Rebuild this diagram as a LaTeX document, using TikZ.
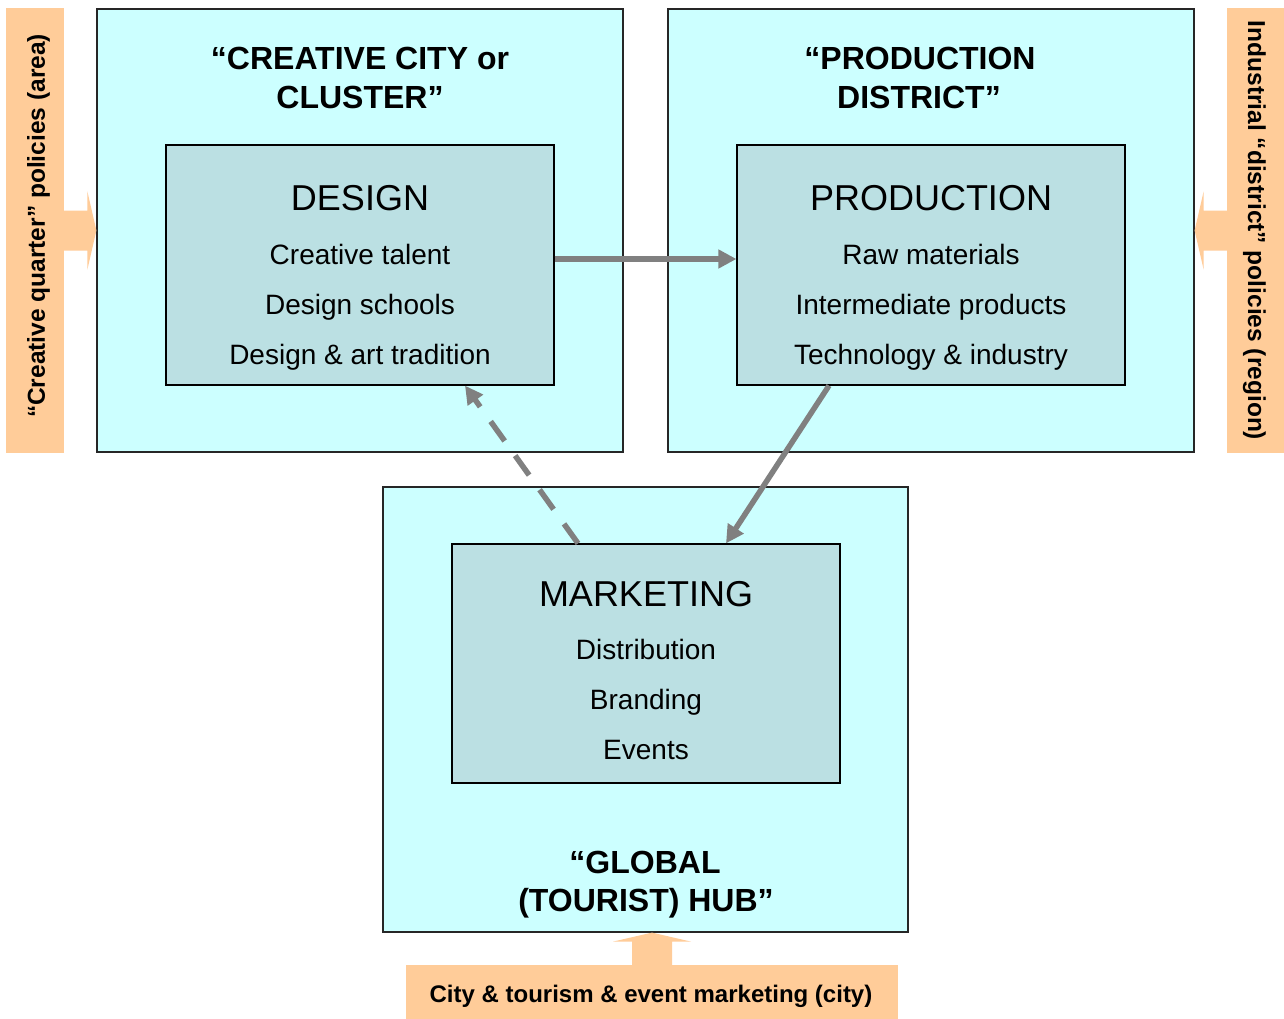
\documentclass[tikz,border=0pt]{standalone}
\usepackage{fontspec}
\setmainfont{Liberation Sans}
\usetikzlibrary{arrows.meta}
\definecolor{zonefill}{HTML}{CCFFFF}
\definecolor{corefill}{HTML}{BBE0E3}
\definecolor{policyfill}{HTML}{FFCC99}
\definecolor{flowgray}{HTML}{808080}

\begin{document}
\begin{tikzpicture}[x=1pt,y=-1pt,
  zone/.style={draw=black!85,line width=1.2pt,fill=zonefill,minimum width=526pt,minimum height=443pt,inner sep=0pt},
  core/.style={draw=black,line width=1.2pt,fill=corefill,minimum width=388pt,minimum height=240pt,inner sep=0pt},
  band/.style={fill=policyfill,inner sep=0pt},
  bandtext/.style={inner sep=0pt,font=\fontsize{24.5}{30}\selectfont\bfseries},
  ttl/.style={anchor=base,inner sep=0pt,font=\fontsize{32}{39}\selectfont\bfseries},
  corehead/.style={anchor=base,inner sep=0pt,font=\fontsize{36}{44}\selectfont},
  coreitem/.style={anchor=base,inner sep=0pt,font=\fontsize{28}{34}\selectfont},
  flow/.style={draw=flowgray,line width=5.5pt,-{Triangle[length=18pt,width=18pt]}},
  loopflow/.style={flow,dash pattern=on 24pt off 18pt},
]
\useasboundingbox[fill=white] (0,0) rectangle (1284,1019);

% policy bands
\node[band,minimum width=58pt,minimum height=445pt] (lband) at (35,230.5) {};
\node[band,minimum width=57pt,minimum height=445pt] (rband) at (1255.5,230.5) {};
\node[band,minimum width=492pt,minimum height=54pt] (bband) at (652,992) {};

% zones
\node[zone] (cc) at (360,230.5) {};
\node[zone] (pd) at (931,230.5) {};
\node[zone,minimum width=525pt,minimum height=445pt] (gh) at (645.5,709.5) {};

% block arrows from the policy bands into the zones
\fill[policyfill] ([yshift=20pt]lband.east) -- ([xshift=-9pt,yshift=20pt]cc.west)
  -- ([xshift=-9pt,yshift=39pt]cc.west) -- (cc.west) -- ([xshift=-9pt,yshift=-39pt]cc.west)
  -- ([xshift=-9pt,yshift=-20pt]cc.west) -- ([yshift=-20pt]lband.east) -- cycle;
\fill[policyfill] ([yshift=20pt]rband.west) -- ([xshift=9pt,yshift=20pt]pd.east)
  -- ([xshift=9pt,yshift=39pt]pd.east) -- (pd.east) -- ([xshift=9pt,yshift=-39pt]pd.east)
  -- ([xshift=9pt,yshift=-20pt]pd.east) -- ([yshift=-20pt]rband.west) -- cycle;
\coordinate (btip) at (bband.north |- gh.south);
\fill[policyfill] ([xshift=-20pt]bband.north) -- ([xshift=-20pt,yshift=-9pt]btip)
  -- ([xshift=-39pt,yshift=-9pt]btip) -- (btip) -- ([xshift=39pt,yshift=-9pt]btip)
  -- ([xshift=20pt,yshift=-9pt]btip) -- ([xshift=20pt]bband.north) -- cycle;

% band labels
\node[bandtext,rotate=90] (ltext) at (38.6,226) {“Creative quarter” policies (area)};
\node[bandtext,rotate=-90] (rtext) at (1254.4,230.5) {Industrial “district” policies (region)};
\node[bandtext,font=\fontsize{24}{30}\selectfont\bfseries] (btext) at (651,996.6) {City \& tourism \& event marketing (city)};

% zone titles
\node[ttl] (cct1) at (360,70) {“CREATIVE CITY or};
\node[ttl] (cct2) at (360,109) {CLUSTER”};
\node[ttl] (pdt1) at (920,70) {“PRODUCTION};
\node[ttl] (pdt2) at (919,109) {DISTRICT”};
\node[ttl] (ght1) at (645,873) {“GLOBAL};
\node[ttl] (ght2) at (646,911) {(TOURIST) HUB”};

% core activities
\node[core] (design) at (360,265) {};
\node[core] (prod) at (931,265) {};
\node[core,minimum height=239pt] (mkt) at (646,663.5) {};

\node[corehead] (dh) at (360,211) {DESIGN};
\node[coreitem] (d1) at (360,264) {Creative talent};
\node[coreitem] (d2) at (360,314) {Design schools};
\node[coreitem] (d3) at (360,364) {Design \& art tradition};

\node[corehead] (ph) at (931,211) {PRODUCTION};
\node[coreitem] (p1) at (931,264) {Raw materials};
\node[coreitem] (p2) at (931,314) {Intermediate products};
\node[coreitem] (p3) at (931,364) {Technology \& industry};

\node[corehead] (mh) at (646,606) {MARKETING};
\node[coreitem] (m1) at (646,659) {Distribution};
\node[coreitem] (m2) at (646,709) {Branding};
\node[coreitem] (m3) at (646,759) {Events};

% flows between the activities
\draw[flow] ([yshift=6pt]design.east) -- ([yshift=6pt]prod.west);
\draw[flow] ([xshift=-102pt]prod.south) -- ([xshift=80pt]mkt.north);
\draw[loopflow] ([xshift=-68pt]mkt.north) -- ([xshift=105pt]design.south);
\end{tikzpicture}
\end{document}
